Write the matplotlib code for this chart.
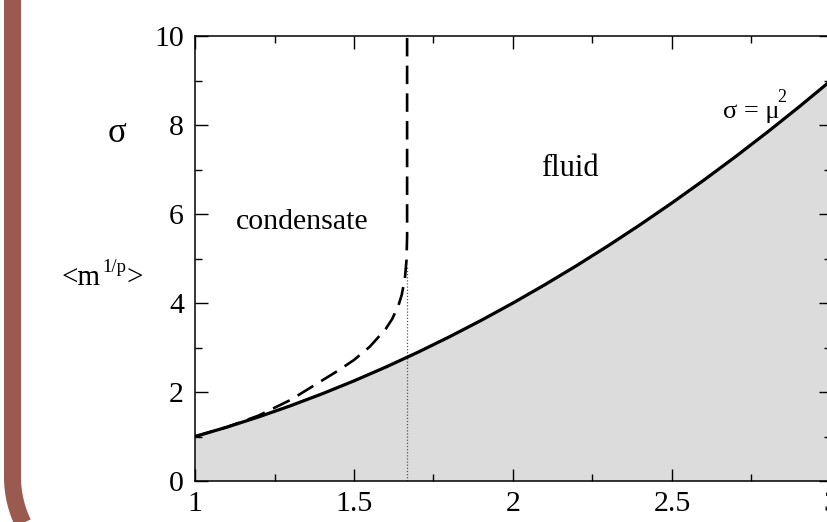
import matplotlib
matplotlib.use("Agg")
import numpy as np
import matplotlib.pyplot as plt
from matplotlib.ticker import MultipleLocator

# ---- data ----
mu_line = [1.0, 1.1, 1.2, 1.3, 1.4, 1.5, 1.6, 1.7, 1.8, 1.9, 2.0,
           2.1, 2.2, 2.3, 2.4, 2.5, 2.6, 2.7, 2.8, 2.9, 3.0]
sigma_line = [1.0, 1.21, 1.44, 1.69, 1.96, 2.25, 2.56, 2.89, 3.24, 3.61, 4.0,
              4.41, 4.84, 5.29, 5.76, 6.25, 6.76, 7.29, 7.84, 8.41, 9.0]

mu_cond = [1.0, 1.1, 1.2, 1.3, 1.4, 1.45, 1.5, 1.55, 1.6, 1.62, 1.64, 1.65,
           1.66, 1.665, 1.667, 1.667]
sigma_cond = [1.0, 1.21, 1.47, 1.82, 2.26, 2.48, 2.72, 3.02, 3.42, 3.64, 3.95, 4.18,
              4.55, 4.95, 5.5, 10.0]

mu_c = 1.667
sigma_c = 4.8

xticks = [1, 1.5, 2, 2.5, 3]
xticklabels = ["1", "1.5", "2", "2.5", "3"]
yticks = [0, 2, 4, 6, 8, 10]
yticklabels = ["0", "2", "4", "6", "8", "10"]

plt.rcParams['font.family'] = ['Liberation Serif', 'DejaVu Serif']

W, H = 828, 522
fig = plt.figure(figsize=(W / 100, H / 100), dpi=100)

# background frame and free labels (pixel coordinates)
bg = fig.add_axes([0, 0, 1, 1], zorder=-1)
bg.set_xlim(0, W)
bg.set_ylim(H, 0)
bg.axis("off")
fx, cy, r = 12.5, 477.0, 106.0
th = np.linspace(np.pi, np.pi / 2, 60)
px = np.concatenate([[fx, fx], fx + r + r * np.cos(th)])
py = np.concatenate([[-20, cy], cy + r * np.sin(th)])
bg.plot(px, py, color="#9B5A4F", linewidth=17 * 0.72, solid_capstyle="butt",
        solid_joinstyle="round")

left, right, top, bottom = 195, 831, 36, 481
ax = fig.add_axes([left / W, (H - bottom) / H, (right - left) / W, (bottom - top) / H])
ax.set_facecolor("none")
ax.set_xlim(1, 3)
ax.set_ylim(0, 10)

ax.fill_between(mu_line, 0, sigma_line, color="#DCDCDC", linewidth=0, zorder=1)
ax.plot(mu_line, sigma_line, color="black", linewidth=2.3, zorder=3)
ax.plot(mu_cond, sigma_cond, color="black", linewidth=1.9,
        dashes=(7, 3.5), zorder=3)
ax.plot([mu_c, mu_c], [0, sigma_c], color="#555555", linewidth=0.9,
        linestyle=(0, (1, 1.5)), zorder=2)

ax.set_xticks(xticks)
ax.set_xticklabels(xticklabels)
ax.set_yticks(yticks)
ax.set_yticklabels(yticklabels)
ax.xaxis.set_minor_locator(MultipleLocator(0.25))
ax.yaxis.set_minor_locator(MultipleLocator(1))
ax.tick_params(which="both", direction="in", top=True, right=True, width=1.0)
ax.tick_params(which="major", length=9, labelsize=21.5)
ax.tick_params(axis="x", which="major", pad=7)
ax.tick_params(axis="y", which="major", pad=8)
ax.tick_params(which="minor", length=5)
for s in ax.spines.values():
    s.set_linewidth(1.1)

# y-axis labels (left of the axes)
bg.text(117, 134, "σ", fontsize=25, ha="center", va="center")
bg.text(62, 285, "<m", fontsize=21, ha="left", va="baseline")
bg.text(102, 272, "1/p", fontsize=13.5, ha="left", va="baseline")
bg.text(127, 285, ">", fontsize=21, ha="left", va="baseline")

# region labels
ax.text(1.336, 5.82, "condensate", fontsize=21.5, ha="center", va="center")
ax.text(2.18, 7.03, "fluid", fontsize=22, ha="center", va="center")
bg.text(723, 118, "σ = μ", fontsize=19, ha="left", va="baseline", zorder=5)
bg.text(777, 102, "2", fontsize=13, ha="left", va="baseline", zorder=5)

fig.savefig("out.png", dpi=100)
